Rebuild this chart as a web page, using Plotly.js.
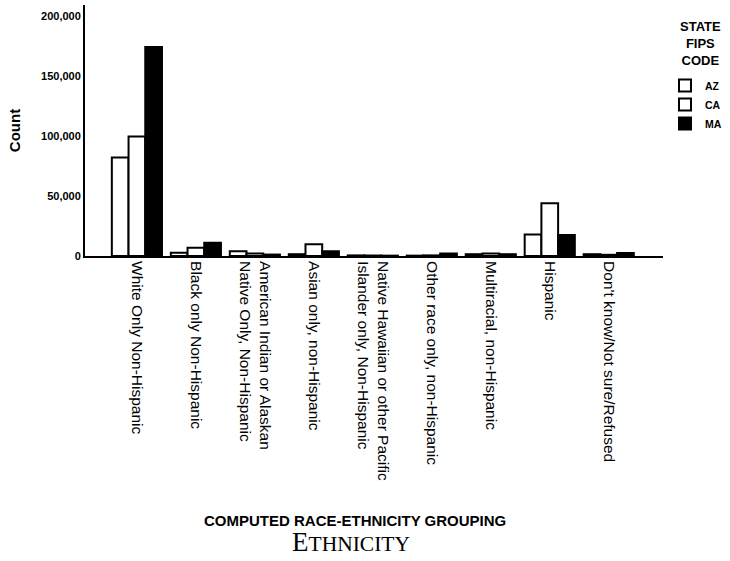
<!DOCTYPE html>
<html>
<head>
<meta charset="utf-8">
<script src="https://cdn.plot.ly/plotly-3.0.1.min.js"></script>
<style>html,body{margin:0;padding:0;background:#fff;}#chart{width:730px;height:561px;}</style>
</head>
<body>
<div id="chart"></div>
<script>
var categories = [
  "White Only Non-Hispanic",
  "Black only Non-Hispanic",
  "American Indian or Alaskan<br>Native Only, Non-Hispanic",
  "Asian only, non-Hispanic",
  "Native Hawaiian or other Pacific<br>Islander only, Non-Hispanic",
  "Other race only, non-Hispanic",
  "Multiracial, non-Hispanic",
  "Hispanic",
  "Don't know/Not sure/Refused"
];
var valuesAZ = [82000, 2700, 4000, 1500, 500, 300, 1500, 18000, 1500];
var valuesCA = [99500, 6800, 2000, 9700, 400, 500, 2000, 44000, 1000];
var valuesMA = [174000, 11000, 1200, 4000, 300, 2000, 1500, 17500, 2500];
var yTicks = [0, 50000, 100000, 150000, 200000];
var yTickText = ["0", "50,000", "100,000", "150,000", "200,000"];
var legendTitle = "STATE<br>FIPS<br>CODE";

var idx = categories.map(function(_, i){ return i; });
var lineStyle = {color: "#000", width: 2};
var traces = [
  {type: "bar", name: "<b>AZ</b>", x: idx, y: valuesAZ, marker: {color: "#fff", line: lineStyle}},
  {type: "bar", name: "<b>CA</b>", x: idx, y: valuesCA, marker: {color: "#fff", line: lineStyle}},
  {type: "bar", name: "<b>MA</b>", x: idx, y: valuesMA, marker: {color: "#000", line: lineStyle}}
];

var px = function(x){ return (x - 85) / 578; };
var py = function(y){ return (256 - y) / 251; };

var layout = {
  width: 730, height: 561,
  margin: {l: 85, r: 67, t: 5, b: 305, autoexpand: false},
  paper_bgcolor: "#fff", plot_bgcolor: "#fff",
  barmode: "group", bargap: 0.15, bargroupgap: 0,
  font: {family: "Liberation Sans, Arial, sans-serif", color: "#000"},
  showlegend: true,
  legend: {
    x: px(665), y: py(71), xanchor: "left", yanchor: "top",
    font: {size: 10.5}, tracegroupgap: 0, itemwidth: 30, bgcolor: "rgba(0,0,0,0)"
  },
  xaxis: {
    range: [-0.88, 8.92],
    tickmode: "array", tickvals: idx, ticktext: categories,
    tickangle: 90, ticks: "", showgrid: false, zeroline: false,
    showline: true, linecolor: "#000", linewidth: 2,
    tickfont: {size: 15.5}
  },
  yaxis: {
    range: [0, 209000],
    tickmode: "array", tickvals: yTicks, ticktext: yTickText,
    ticks: "", showgrid: false, zeroline: false,
    showline: true, linecolor: "#000", linewidth: 2,
    tickfont: {size: 11, weight: "bold"},
    title: {text: "<b>Count</b>", font: {size: 15}, standoff: 17}
  },
  annotations: [
    {text: "<b>" + legendTitle + "</b>", xref: "paper", yref: "paper",
     x: px(701), y: py(17), xanchor: "center", yanchor: "top", align: "center",
     showarrow: false, font: {size: 13}},
    {text: "<b>COMPUTED RACE-ETHNICITY GROUPING</b>", xref: "paper", yref: "paper",
     x: px(355), y: py(520), xanchor: "center", yanchor: "middle",
     showarrow: false, font: {size: 15}},
    {text: "E<span style=\"font-size:21.5px\">THNICITY</span>", xref: "paper", yref: "paper",
     x: px(351), y: py(542), xanchor: "center", yanchor: "middle",
     showarrow: false, font: {size: 27, family: "Liberation Serif, Times New Roman, serif"}}
  ]
};

Plotly.newPlot("chart", traces, layout, {displayModeBar: false, staticPlot: true});
</script>
</body>
</html>
